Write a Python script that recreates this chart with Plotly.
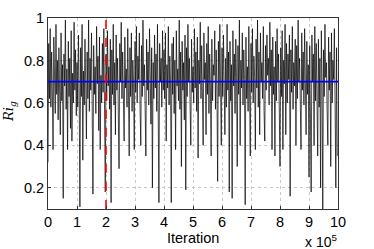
import numpy as np
import plotly.graph_objects as go

# Ri_g samples (40 per 1e5 iterations)
ri_g = [
    0.32, 0.88, 0.62, 0.95, 0.58, 0.84, 0.66, 0.38, 0.91, 0.72, 0.55, 0.97, 0.64, 0.80, 0.52, 0.86, 0.70, 0.45, 0.93, 0.61,
    0.78, 0.15, 0.83, 0.68, 0.99, 0.57, 0.76, 0.38, 0.89, 0.63, 0.81, 0.48, 0.94, 0.42, 0.74, 0.60, 0.98, 0.66, 0.85, 0.54,
    0.79, 0.58, 0.92, 0.67, 0.11, 0.86, 0.63, 0.97, 0.33, 0.75, 0.59, 0.90, 0.70, 0.43, 0.84, 0.62, 0.99, 0.56, 0.81, 0.66,
    0.93, 0.50, 0.17, 0.87, 0.64, 0.77, 0.55, 0.96, 0.69, 0.82, 0.47, 0.91, 0.38, 0.73, 0.60, 0.88, 0.65, 0.95, 0.52, 0.18,
    0.83, 0.61, 0.94, 0.68, 0.77, 0.57, 0.90, 0.13, 0.85, 0.64, 0.97, 0.59, 0.79, 0.45, 0.92, 0.66, 0.81, 0.55, 0.29, 0.88,
    0.70, 0.98, 0.62, 0.84, 0.53, 0.42, 0.91, 0.67, 0.76, 0.58, 0.95, 0.71, 0.35, 0.86, 0.63, 0.93, 0.56, 0.80, 0.69, 0.38,
    0.89, 0.65, 0.96, 0.60, 0.82, 0.71, 0.93, 0.57, 0.40, 0.87, 0.63, 0.99, 0.68, 0.78, 0.54, 0.35, 0.90, 0.66, 0.84, 0.59,
    0.95, 0.72, 0.50, 0.86, 0.20, 0.79, 0.62, 0.92, 0.67, 0.83, 0.56, 0.97, 0.64, 0.13, 0.88, 0.70, 0.81, 0.58, 0.94, 0.66,
    0.85, 0.62, 0.93, 0.42, 0.78, 0.67, 0.96, 0.59, 0.82, 0.70, 0.13, 0.88, 0.64, 0.91, 0.55, 0.80, 0.38, 0.94, 0.68, 0.76,
    0.61, 0.99, 0.57, 0.84, 0.30, 0.89, 0.66, 0.79, 0.52, 0.92, 0.19, 0.86, 0.63, 0.97, 0.70, 0.81, 0.58, 0.40, 0.90, 0.65,
    0.77, 0.60, 0.95, 0.67, 0.84, 0.56, 0.91, 0.34, 0.80, 0.69, 0.98, 0.62, 0.87, 0.58, 0.40, 0.93, 0.71, 0.79, 0.45, 0.88,
    0.64, 0.96, 0.55, 0.83, 0.68, 0.35, 0.90, 0.61, 0.78, 0.73, 0.94, 0.57, 0.85, 0.66, 0.23, 0.89, 0.63, 0.97, 0.70, 0.40,
    0.86, 0.63, 0.92, 0.70, 0.45, 0.81, 0.58, 0.97, 0.66, 0.84, 0.18, 0.89, 0.61, 0.78, 0.15, 0.94, 0.68, 0.83, 0.55, 0.90,
    0.72, 0.30, 0.87, 0.64, 0.99, 0.40, 0.80, 0.67, 0.93, 0.59, 0.85, 0.71, 0.12, 0.91, 0.62, 0.77, 0.56, 0.96, 0.69, 0.35,
    0.88, 0.65, 0.95, 0.60, 0.82, 0.72, 0.38, 0.90, 0.67, 0.99, 0.58, 0.84, 0.45, 0.93, 0.70, 0.79, 0.62, 0.96, 0.56, 0.42,
    0.87, 0.66, 0.92, 0.73, 0.81, 0.59, 0.98, 0.68, 0.85, 0.38, 0.91, 0.64, 0.77, 0.35, 0.89, 0.61, 0.95, 0.70, 0.83, 0.57,
    0.30, 0.86, 0.63, 0.94, 0.38, 0.80, 0.69, 0.97, 0.45, 0.88, 0.60, 0.83, 0.71, 0.92, 0.16, 0.85, 0.65, 0.96, 0.57, 0.79,
    0.68, 0.90, 0.40, 0.87, 0.62, 0.99, 0.70, 0.81, 0.55, 0.38, 0.93, 0.66, 0.84, 0.59, 0.95, 0.72, 0.45, 0.89, 0.64, 0.78,
    0.25, 0.87, 0.64, 0.18, 0.92, 0.70, 0.83, 0.40, 0.96, 0.61, 0.88, 0.67, 0.35, 0.90, 0.58, 0.81, 0.20, 0.94, 0.69, 0.10,
    0.85, 0.63, 0.97, 0.72, 0.79, 0.56, 0.40, 0.91, 0.66, 0.84, 0.30, 0.93, 0.60, 0.80, 0.71, 0.95, 0.65, 0.20, 0.86, 0.35,
]
total_iterations = 1_000_000
iterations = np.arange(len(ri_g)) * (total_iterations / len(ri_g))

mean_ri_g = 0.7
burn_in = 200_000
x_scale = 1e5

x_ticks = list(range(0, 11))
y_ticks = [0.2, 0.4, 0.6, 0.8, 1.0]
y_tick_text = ["0.2", "0.4", "0.6", "0.8", "1"]

fig = go.Figure()
fig.add_trace(go.Scatter(
    x=iterations / x_scale, y=ri_g, mode="lines",
    line=dict(color="black", width=0.7), hoverinfo="skip", showlegend=False))
fig.add_trace(go.Scatter(
    x=[0, total_iterations / x_scale], y=[mean_ri_g, mean_ri_g], mode="lines",
    line=dict(color="#0000ff", width=1.6), showlegend=False))
fig.add_trace(go.Scatter(
    x=[burn_in / x_scale, burn_in / x_scale], y=[0.1, 1.0], mode="lines",
    line=dict(color="#ff0000", width=1.6, dash="dash"), showlegend=False))

sans = "Liberation Sans, Arial, sans-serif"
axis_font = dict(family=sans, size=14.5, color="black")
tick_font = dict(family=sans, size=14.5, color="black")
fig.update_layout(
    width=374, height=249,
    margin=dict(l=48, r=36, t=18, b=40, autoexpand=False),
    paper_bgcolor="white", plot_bgcolor="white",
    font=axis_font,
    xaxis=dict(range=[0, 10], tickvals=x_ticks, ticktext=[str(t) for t in x_ticks],
               showline=True, linecolor="#333", linewidth=1, mirror=True,
               ticks="inside", ticklen=3, tickcolor="#333", automargin=False,
               showgrid=True, gridcolor="#c8c8c8", griddash="dot", gridwidth=1,
               zeroline=False, tickfont=tick_font),
    yaxis=dict(range=[0.1, 1.0], tickvals=y_ticks, ticktext=y_tick_text,
               showline=True, linecolor="#333", linewidth=1, mirror=True,
               ticks="inside", ticklen=3, tickcolor="#333", automargin=False,
               showgrid=True, gridcolor="#c8c8c8", griddash="dot", gridwidth=1,
               zeroline=False, tickfont=tick_font),
    annotations=[
        dict(text="Iteration", xref="paper", yref="paper", x=0.5, y=-0.153,
             xanchor="center", yanchor="middle", showarrow=False, font=axis_font),
        dict(text="<i>Ri</i><sub><i>g</i></sub>", xref="paper", yref="paper",
             x=-0.131, y=0.508, xanchor="center", yanchor="middle", textangle=-90,
             showarrow=False, font=dict(family="DejaVu Serif, serif", size=13, color="black")),
        dict(text="x 10<sup>5</sup>", xref="paper", yref="paper",
             x=1.003, y=-0.168, xanchor="right", yanchor="middle",
             showarrow=False, font=dict(family=sans, size=14, color="black")),
    ],
)
fig.write_html("out.html", config={"displayModeBar": False},
               post_script="document.body.style.margin='0';document.body.style.overflow='hidden';")
